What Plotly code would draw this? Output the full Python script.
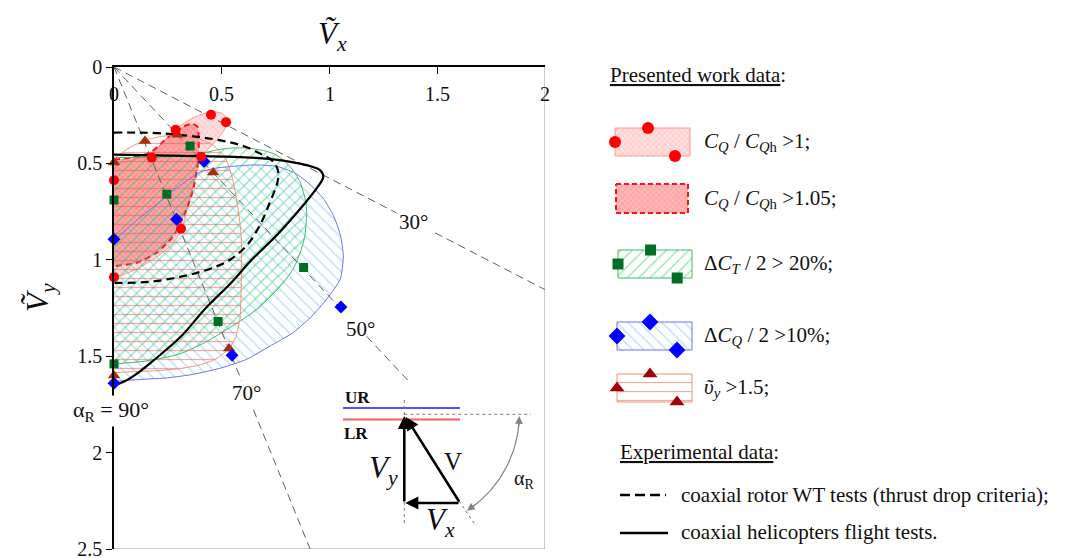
import numpy as np
import plotly.graph_objects as go

W, H = 1066, 558
SERIF = "Liberation Serif, Times New Roman, serif"
INK = "rgb(15,15,15)"

# ---------------- values ----------------
x_tick_vals = [0, 0.5, 1, 1.5, 2]
x_tick_text = ["0", "0.5", "1", "1.5", "2"]
y_tick_vals = [0, 0.5, 1, 1.5, 2, 2.5]
y_tick_text = ["0", "0.5", "1", "1.5", "2", "2.5"]

ray_angles_deg = [30, 50, 70]
ray_labels = ["30°", "50°", "70°"]

# C_Q/C_Qh > 1 (light red, fine texture)
cq1_bx = [0.0, 0.08, 0.175, 0.235, 0.285, 0.37, 0.45, 0.50, 0.528, 0.51, 0.46, 0.41, 0.372, 0.343, 0.316, 0.27, 0.20, 0.12, 0.05, 0.0]
cq1_by = [0.50, 0.485, 0.45, 0.38, 0.322, 0.262, 0.232, 0.24, 0.275, 0.33, 0.40, 0.46, 0.587, 0.717, 0.839, 0.92, 0.985, 1.04, 1.075, 1.09]
cq1_px = [0.45, 0.52, 0.286, 0.175, 0.404, 0.0, 0.311, 0.0]
cq1_py = [0.248, 0.286, 0.326, 0.47, 0.465, 0.587, 0.839, 1.09]

# C_Q/C_Qh > 1.05 (red, dashed border)
cq105_bx = [0.0, 0.08, 0.167, 0.23, 0.283, 0.33, 0.365, 0.388, 0.393, 0.391, 0.368, 0.337, 0.275, 0.198, 0.105, 0.0]
cq105_by = [0.48, 0.47, 0.445, 0.385, 0.335, 0.305, 0.295, 0.31, 0.36, 0.478, 0.634, 0.738, 0.877, 0.963, 1.015, 1.033]

# dCQ/2 > 10% (blue, "\" hatch)
cq10_bx = [0.0, 0.10, 0.20, 0.30, 0.40, 0.47, 0.554, 0.655, 0.755, 0.84, 0.91, 0.97, 1.018, 1.05, 1.064, 1.05, 0.99, 0.92, 0.832, 0.72, 0.616, 0.50, 0.368, 0.25, 0.136, 0.0]
cq10_by = [0.90, 0.80, 0.71, 0.62, 0.545, 0.525, 0.515, 0.508, 0.515, 0.55, 0.61, 0.68, 0.77, 0.87, 0.98, 1.10, 1.20, 1.29, 1.377, 1.45, 1.516, 1.56, 1.594, 1.612, 1.62, 1.63]
cq10_px = [0.418, 0.29, 0.0, 1.053, 0.548, 0.0]
cq10_py = [0.49, 0.79, 0.894, 1.245, 1.495, 1.64]

# dCT/2 > 20% (green, "/" hatch)
ct_bx = [0.0, 0.20, 0.35, 0.40, 0.477, 0.55, 0.616, 0.70, 0.755, 0.82, 0.863, 0.89, 0.894, 0.885, 0.865, 0.83, 0.77, 0.66, 0.54, 0.42, 0.30, 0.15, 0.0]
ct_by = [0.47, 0.468, 0.46, 0.45, 0.43, 0.42, 0.42, 0.435, 0.457, 0.52, 0.595, 0.70, 0.77, 0.88, 0.96, 1.05, 1.14, 1.26, 1.35, 1.43, 1.49, 1.525, 1.54]
ct_px = [0.353, 0.245, 0.0, 0.88, 0.483, 0.0]
ct_py = [0.41, 0.66, 0.69, 1.04, 1.32, 1.54]

# v_y > 1.5 (red horizontal lines)
vy_bx = [0.0, 0.07, 0.144, 0.22, 0.295, 0.38, 0.46, 0.52, 0.553, 0.575, 0.59, 0.592, 0.59, 0.585, 0.565, 0.534, 0.48, 0.40, 0.30, 0.20, 0.10, 0.0]
vy_by = [0.474, 0.42, 0.38, 0.36, 0.352, 0.368, 0.405, 0.48, 0.594, 0.73, 0.87, 1.0, 1.15, 1.30, 1.40, 1.46, 1.51, 1.545, 1.565, 1.575, 1.58, 1.585]
vy_px = [0.144, 0.295, 0.0, 0.46, 0.534, 0.0]
vy_py = [0.384, 0.352, 0.495, 0.547, 1.46, 1.6]

# experimental boundaries
wt_x = [0.0, 0.10, 0.218, 0.368, 0.45, 0.523, 0.60, 0.677, 0.739, 0.762, 0.758, 0.724, 0.677, 0.616, 0.538, 0.45, 0.36, 0.268, 0.16, 0.0]
wt_y = [0.34, 0.34, 0.344, 0.36, 0.372, 0.387, 0.41, 0.448, 0.491, 0.543, 0.60, 0.70, 0.821, 0.925, 1.0, 1.045, 1.075, 1.097, 1.115, 1.12]
ft_x = [0.0, 0.20, 0.523, 0.739, 0.894, 0.956, 0.971, 0.94, 0.878, 0.755, 0.639, 0.546, 0.422, 0.314, 0.19, 0.113, 0.05, 0.0]
ft_y = [0.455, 0.458, 0.465, 0.479, 0.509, 0.535, 0.57, 0.63, 0.717, 0.873, 1.0, 1.116, 1.255, 1.394, 1.516, 1.585, 1.63, 1.65]

# legend texts
legend_texts = [
    "<i>C</i><sub><i>Q</i></sub> / <i>C</i><sub><i>Q</i>h</sub> &gt;1;",
    "<i>C</i><sub><i>Q</i></sub> / <i>C</i><sub><i>Q</i>h</sub> &gt;1.05;",
    "Δ<i>C</i><sub><i>T</i></sub> / 2 &gt; 20%;",
    "Δ<i>C</i><sub><i>Q</i></sub> / 2 &gt;10%;",
    "<i>ῦ</i><sub><i>y</i></sub> &gt;1.5;",
]
exp_texts = ["coaxial rotor WT tests (thrust drop criteria);", "coaxial helicopters flight tests."]

# ---------------- layout constants (pixels) ----------------
PLOT_L, PLOT_R, PLOT_T, PLOT_B = 114, 545, 67, 549

# ray segments (radial extent given as x-ranges) and label x positions
ray_segments = [[(0, 1.31), (1.49, 2.0)], [(0, 1.07), (1.172, 1.374)], [(0, 0.592), (0.647, 0.91)]]
ray_label_x = [1.389, 1.142, 0.616]

fig = go.Figure()

RED_LIGHT = dict(shape="x", fgcolor="rgba(255,90,90,0.45)", bgcolor="rgba(255,185,185,0.45)", size=4, solidity=0.3)
RED_DARK = dict(shape="x", fgcolor="rgba(255,40,40,0.45)", bgcolor="rgba(255,110,110,0.5)", size=4, solidity=0.3)
BLUE_H = dict(shape="\\", fgcolor="rgb(115,190,245)", bgcolor="rgba(0,0,0,0)", size=8, solidity=0.17)
GREEN_H = dict(shape="/", fgcolor="rgb(35,205,100)", bgcolor="rgba(0,0,0,0)", size=8, solidity=0.17)
HORIZ_H = dict(shape="-", fgcolor="rgb(232,85,85)", bgcolor="rgba(0,0,0,0)", size=9, solidity=0.14)


def add_region(bx, by, line, pattern, xaxis="x", yaxis="y", spline=True):
    ln = dict(line)
    if spline:
        ln.update(shape="spline", smoothing=0.6)
    fig.add_trace(go.Scatter(x=bx, y=by, mode="lines", fill="toself", line=ln,
                             fillpattern=pattern, hoverinfo="skip", showlegend=False,
                             xaxis=xaxis, yaxis=yaxis))


def add_markers(xs, ys, symbol, color, size, xaxis="x", yaxis="y"):
    fig.add_trace(go.Scatter(x=xs, y=ys, mode="markers", cliponaxis=False,
                             marker=dict(symbol=symbol, color=color, size=size, line=dict(width=0)),
                             hoverinfo="skip", showlegend=False, xaxis=xaxis, yaxis=yaxis))


def add_line(xs, ys, color, width, dash="solid", xaxis="x", yaxis="y", shape="linear"):
    fig.add_trace(go.Scatter(x=xs, y=ys, mode="lines", line=dict(color=color, width=width, dash=dash, shape=shape),
                             hoverinfo="skip", showlegend=False, xaxis=xaxis, yaxis=yaxis))


# regions
add_region(cq1_bx, cq1_by, dict(color="rgb(255,150,150)", width=1), RED_LIGHT)
add_region(cq105_bx, cq105_by, dict(color="rgb(255,20,20)", width=2, dash="6px,4px"), RED_DARK)
add_region(cq10_bx, cq10_by, dict(color="rgb(110,110,255)", width=1), BLUE_H)
add_region(ct_bx, ct_by, dict(color="rgb(60,190,100)", width=1), GREEN_H)
add_region(vy_bx, vy_by, dict(color="rgb(235,150,120)", width=1), HORIZ_H)

# angle rays
for ang, segs in zip(ray_angles_deg, ray_segments):
    t = np.tan(np.radians(ang))
    for a, b in segs:
        add_line([a, b], [a * t, b * t], "rgb(95,95,95)", 1, dash="8px,5px")

# experimental curves
add_line(wt_x, wt_y, "black", 2.2, dash="8px,5px", shape="spline")
add_line(ft_x, ft_y, "black", 2.2, shape="spline")

# markers
BROWN = "rgb(170,45,10)"
add_markers(vy_px, vy_py, "triangle-up", BROWN, 11)
add_markers(ct_px, ct_py, "square", "rgb(0,110,35)", 9)
add_markers(cq10_px, cq10_py, "diamond", "rgb(0,0,255)", 10)
add_markers(cq1_px, cq1_py, "circle", "rgb(255,0,0)", 10)

annotations = []

# x tick labels (inside, under the top axis)
for v, t in zip(x_tick_vals, x_tick_text):
    annotations.append(dict(x=v, y=0.14, xref="x", yref="y", text=t, showarrow=False,
                            font=dict(family=SERIF, size=20, color=INK)))

# ray labels
for ang, lab, lx in zip(ray_angles_deg, ray_labels, ray_label_x):
    annotations.append(dict(x=lx, y=lx * np.tan(np.radians(ang)), xref="x", yref="y", text=lab,
                            showarrow=False, font=dict(family=SERIF, size=21, color=INK)))

# ---------------- pixel overlay (legend, titles, inset) ----------------
P = dict(xref="x2", yref="y2")

annotations.append(dict(x=332, y=36, text="<i>Ṽ</i><sub><i>x</i></sub>", showarrow=False,
                        font=dict(family=SERIF, size=31, color=INK), **P))
annotations.append(dict(x=40, y=298, text="<i>Ṽ</i><sub><i>y</i></sub>", showarrow=False, textangle=-90,
                        font=dict(family=SERIF, size=31, color=INK), **P))
annotations.append(dict(x=111, y=411, text="α<sub>R</sub> = 90°", showarrow=False, bgcolor="white",
                        font=dict(family=SERIF, size=22, color=INK), **P))

# inset vector diagram
VX0, VTOP, VBOT, VRIGHT = 404.3, 415.0, 503.0, 460.0
add_line([343, 460], [408, 408], "rgb(80,80,255)", 2, xaxis="x2", yaxis="y2")
add_line([343, 460], [419.5, 419.5], "rgb(240,95,95)", 2, xaxis="x2", yaxis="y2")
add_line([VX0, VX0], [400, 524], "rgb(120,120,120)", 1, dash="dot", xaxis="x2", yaxis="y2")
add_line([VX0, 531], [414.3, 414.3], "rgb(120,120,120)", 1, dash="dot", xaxis="x2", yaxis="y2")
add_line([VRIGHT - 1, 476], [501, 526], "rgb(120,120,120)", 1, dash="dot", xaxis="x2", yaxis="y2")
arc_t = np.radians(np.linspace(2, 55, 40))
add_line(list(VX0 + 115 * np.cos(arc_t)), list(414.3 + 115 * np.sin(arc_t)), "rgb(130,130,130)", 1.2,
         xaxis="x2", yaxis="y2")
ARW = dict(showarrow=True, arrowhead=2, arrowsize=1, arrowwidth=2.6, arrowcolor="black", text="",
           axref="x2", ayref="y2", **P)
annotations.append(dict(x=VX0, y=VTOP + 1, ax=VX0, ay=VBOT, **ARW))
annotations.append(dict(x=VX0 + 1, y=VBOT, ax=VRIGHT, ay=VBOT, **ARW))
annotations.append(dict(x=VX0 + 1.5, y=VTOP + 2, ax=VRIGHT, ay=VBOT, **ARW))
ARC_ARW = dict(showarrow=True, arrowhead=2, arrowsize=1.3, arrowwidth=1.2, arrowcolor="rgb(130,130,130)",
               text="", axref="x2", ayref="y2", **P)
annotations.append(dict(x=VX0 + 115, y=416, ax=VX0 + 114.5, ay=428, **ARC_ARW))
annotations.append(dict(x=VX0 + 115 * np.cos(np.radians(57)), y=414.3 + 115 * np.sin(np.radians(57)),
                        ax=VX0 + 115 * np.cos(np.radians(51)), ay=414.3 + 115 * np.sin(np.radians(51)),
                        **ARC_ARW))
annotations.append(dict(x=357, y=397, text="<b>UR</b>", showarrow=False,
                        font=dict(family=SERIF, size=17, color=INK), **P))
annotations.append(dict(x=356, y=433, text="<b>LR</b>", showarrow=False,
                        font=dict(family=SERIF, size=17, color=INK), **P))
annotations.append(dict(x=453, y=461, text="V", showarrow=False,
                        font=dict(family=SERIF, size=25, color=INK), **P))
annotations.append(dict(x=383, y=470, text="<i>V</i><sub><i>y</i></sub>", showarrow=False,
                        font=dict(family=SERIF, size=31, color=INK), **P))
annotations.append(dict(x=440, y=522, text="<i>V</i><sub><i>x</i></sub>", showarrow=False,
                        font=dict(family=SERIF, size=31, color=INK), **P))
annotations.append(dict(x=524, y=479, text="α<sub>R</sub>", showarrow=False,
                        font=dict(family=SERIF, size=20, color=INK), **P))

# legend
LEG_TEXT_X = 702
annotations.append(dict(x=608, y=75, text="<u>Presented work data</u>:", showarrow=False, xanchor="left",
                        font=dict(family=SERIF, size=21, color=INK), **P))
leg_boxes = [(615, 690, 128, 156), (616, 688, 184, 213), (618, 692, 250, 278), (617, 692, 322, 350),
             (617, 692, 374, 402)]
leg_patterns = [RED_LIGHT, RED_DARK, GREEN_H, BLUE_H, HORIZ_H]
leg_lines = [dict(color="rgb(255,150,150)", width=1), dict(color="rgb(255,20,20)", width=2, dash="5px,3px"),
             dict(color="rgb(60,190,100)", width=1), dict(color="rgb(110,110,255)", width=1),
             dict(color="rgb(235,150,120)", width=1)]
leg_markers = [("circle", "rgb(255,0,0)", 12), None, ("square", "rgb(0,110,35)", 11),
               ("diamond", "rgb(0,0,255)", 13), ("triangle-up", "rgb(165,0,10)", 13)]
MK_FRAC = [(0.44, 0.0), (0.0, 0.5), (0.8, 1.0)]
for (x0, x1, y0, y1), pat, ln, mk, txt in zip(leg_boxes, leg_patterns, leg_lines, leg_markers, legend_texts):
    add_region([x0, x1, x1, x0, x0], [y0, y0, y1, y1, y0], ln, pat, xaxis="x2", yaxis="y2", spline=False)
    if mk:
        add_markers([x0 + fx * (x1 - x0) for fx, fy in MK_FRAC], [y0 + fy * (y1 - y0) for fx, fy in MK_FRAC],
                    mk[0], mk[1], mk[2], xaxis="x2", yaxis="y2")
    annotations.append(dict(x=LEG_TEXT_X, y=(y0 + y1) / 2, text=txt, showarrow=False, xanchor="left",
                            font=dict(family=SERIF, size=21, color=INK), **P))

annotations.append(dict(x=618, y=452, text="<u>Experimental data</u>:", showarrow=False, xanchor="left",
                        font=dict(family=SERIF, size=21, color=INK), **P))
add_line([620, 666], [495, 495], "black", 2.6, dash="10px,5px", xaxis="x2", yaxis="y2")
add_line([620, 668], [533, 533], "black", 2.6, xaxis="x2", yaxis="y2")
annotations.append(dict(x=679, y=495, text=exp_texts[0], showarrow=False, xanchor="left",
                        font=dict(family=SERIF, size=21, color=INK), **P))
annotations.append(dict(x=679, y=532, text=exp_texts[1], showarrow=False, xanchor="left",
                        font=dict(family=SERIF, size=21, color=INK), **P))

shapes = [
    dict(type="line", xref="x", yref="y", x0=2, x1=2, y0=0, y1=2.5, line=dict(color="rgb(150,150,150)", width=1)),
    dict(type="line", xref="x", yref="y", x0=0, x1=2, y0=2.5, y1=2.5, line=dict(color="rgb(150,150,150)", width=1)),
]

fig.update_layout(
    width=W, height=H, margin=dict(l=0, r=0, t=0, b=0, autoexpand=False),
    paper_bgcolor="white", plot_bgcolor="rgba(0,0,0,0)", showlegend=False,
    xaxis=dict(domain=[PLOT_L / W, PLOT_R / W], range=[0, 2], side="top", anchor="y",
               showline=True, linecolor="black", linewidth=1.5, ticks="inside", ticklen=7,
               tickcolor="black", tickvals=x_tick_vals, showticklabels=False, automargin=False,
               showgrid=False, zeroline=False, fixedrange=True),
    yaxis=dict(domain=[1 - PLOT_B / H, 1 - PLOT_T / H], range=[2.5, 0], anchor="x",
               showline=True, linecolor="black", linewidth=1.5, ticks="outside", ticklen=6,
               tickcolor="black", tickvals=y_tick_vals, ticktext=y_tick_text, automargin=False,
               ticklabeloverflow="allow",
               tickfont=dict(family=SERIF, size=20, color=INK),
               showgrid=False, zeroline=False, fixedrange=True),
    xaxis2=dict(domain=[0, 1], range=[0, W], anchor="y2", visible=False, fixedrange=True, automargin=False),
    yaxis2=dict(domain=[0, 1], range=[H, 0], anchor="x2", visible=False, fixedrange=True, automargin=False),
    annotations=annotations, shapes=shapes,
)

fig.write_html("out.html", config={"displayModeBar": False},
               post_script="document.body.style.margin='0';document.body.style.overflow='hidden';")
